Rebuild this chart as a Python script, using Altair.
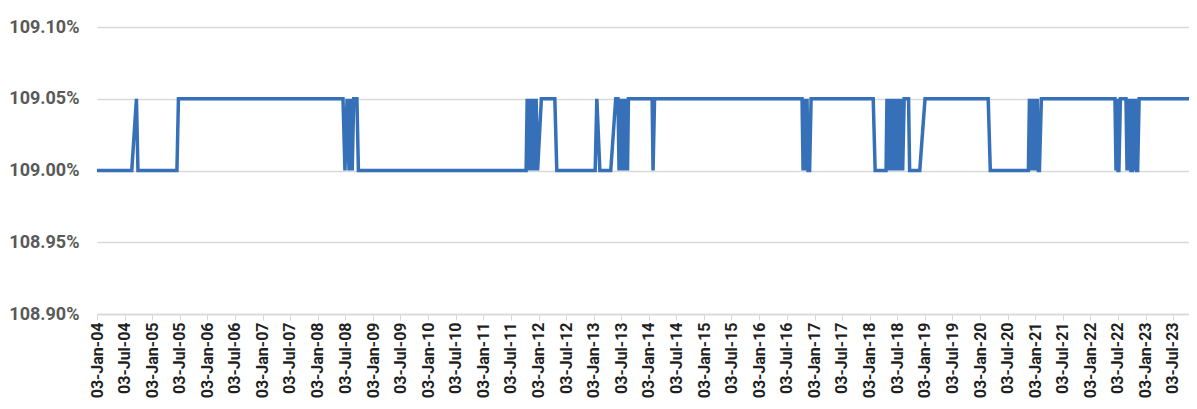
import altair as alt
import pandas as pd

dates = [
    "2004-01-03", "2004-08-20", "2004-09-20", "2004-09-30", "2005-06-15", "2005-06-25",
    "2008-06-18", "2008-07-01", "2008-07-15", "2008-07-28", "2008-08-08", "2008-08-18",
    "2008-08-28", "2008-09-18", "2008-09-28",
    "2011-10-13", "2011-10-20", "2011-10-30", "2011-11-10", "2011-11-17", "2011-11-27",
    "2011-12-08", "2011-12-18", "2011-12-28", "2012-01-22", "2012-04-20", "2012-05-03",
    "2013-01-12", "2013-01-23", "2013-02-12", "2013-04-25", "2013-05-28", "2013-06-12",
    "2013-06-19", "2013-06-25", "2013-07-02", "2013-07-09", "2013-07-15", "2013-07-22",
    "2013-07-28", "2013-08-07", "2013-08-14", "2013-08-20",
    "2014-01-24", "2014-01-30", "2014-02-09",
    "2016-10-12", "2016-10-19", "2016-10-29", "2016-11-05", "2016-11-14", "2016-11-21",
    "2016-12-01", "2016-12-11",
    "2018-01-26", "2018-02-08", "2018-04-21", "2018-04-27", "2018-05-07", "2018-05-17",
    "2018-05-27", "2018-06-07", "2018-06-17", "2018-06-27", "2018-07-06", "2018-07-16",
    "2018-07-27", "2018-08-06", "2018-08-09", "2018-08-19", "2018-09-17", "2018-09-24",
    "2018-11-30", "2019-01-04",
    "2020-02-26", "2020-03-11", "2020-11-18", "2020-11-25", "2020-12-02", "2020-12-08",
    "2020-12-15", "2020-12-21", "2020-12-28", "2021-01-03", "2021-01-10", "2021-01-16",
    "2021-01-23", "2021-01-30", "2021-02-12",
    "2022-06-14", "2022-06-21", "2022-06-27", "2022-07-04", "2022-07-10", "2022-07-20",
    "2022-08-26", "2022-09-02", "2022-09-09", "2022-09-15", "2022-09-22", "2022-09-28",
    "2022-10-08", "2022-10-15", "2022-10-22", "2022-10-28", "2022-11-04", "2022-11-11",
    "2022-11-21", "2023-12-10",
]

values = [
    109.00, 109.00, 109.05, 109.00, 109.00, 109.05,
    109.05, 109.00, 109.05, 109.00, 109.05, 109.00,
    109.05, 109.05, 109.00,
    109.00, 109.05, 109.00, 109.05, 109.00, 109.05,
    109.00, 109.05, 109.00, 109.05, 109.05, 109.00,
    109.00, 109.05, 109.00, 109.00, 109.05, 109.05,
    109.00, 109.05, 109.00, 109.05, 109.00, 109.05,
    109.00, 109.05, 109.00, 109.05,
    109.05, 109.00, 109.05,
    109.05, 109.00, 109.05, 109.00, 109.05, 109.00,
    109.00, 109.05,
    109.05, 109.00, 109.00, 109.05, 109.00, 109.05,
    109.00, 109.05, 109.00, 109.05, 109.00, 109.05,
    109.00, 109.05, 109.00, 109.05, 109.05, 109.00,
    109.00, 109.05,
    109.05, 109.00, 109.00, 109.05, 109.00, 109.05,
    109.00, 109.05, 109.00, 109.05, 109.00, 109.05,
    109.00, 109.00, 109.05,
    109.05, 109.00, 109.05, 109.00, 109.00, 109.05,
    109.05, 109.00, 109.05, 109.00, 109.05, 109.00,
    109.00, 109.05, 109.00, 109.05, 109.00, 109.00,
    109.05, 109.05,
]

tick_years = list(range(2004, 2024))
tick_months = [1, 7]
y_ticks = [108.90, 108.95, 109.00, 109.05, 109.10]

df = pd.DataFrame({"date": dates, "rate": values})

FONT = "Roboto"

x_ticks = [alt.DateTime(year=y, month=m, date=3, utc=True) for y in tick_years for m in tick_months]

chart = alt.Chart(df).mark_line(color="#3670B8", strokeWidth=3.5, clip=True).encode(
    x=alt.X(
        "date:T",
        scale=alt.Scale(
            type="utc",
            nice=False,
            domain=[alt.DateTime(year=2004, month=1, date=3, utc=True),
                    alt.DateTime(year=2023, month=10, date=17, utc=True)],
        ),
        axis=alt.Axis(
            values=x_ticks,
            labelExpr="utcFormat(datum.value, '%d-%b-%y')",
            labelAngle=270,
            labelFont=FONT,
            labelFontSize=16,
            labelFontWeight="bold",
            labelColor="#1F1F1F",
            labelPadding=2,
            labelOverlap=False,
            labelFlush=False,
            labelBound=False,
            domainColor="#D9D9D9",
            domainWidth=1.5,
            tickColor="#D9D9D9",
            tickSize=6,
            grid=False,
            title=None,
        ),
    ),
    y=alt.Y(
        "rate:Q",
        scale=alt.Scale(domain=[108.90, 109.10], nice=False, zero=False),
        axis=alt.Axis(
            values=y_ticks,
            labelExpr="format(datum.value, '.2f') + '%'",
            domain=False,
            ticks=False,
            grid=True,
            gridColor="#D9D9D9",
            gridWidth=1.5,
            labelFont=FONT,
            labelFontSize=18,
            labelFontWeight="bold",
            labelColor="#595959",
            labelPadding=18,
            title=None,
        ),
    ),
).properties(
    width=1092,
    height=287,
    autosize=alt.AutoSizeParams(type="none"),
    padding={"left": 89, "top": 19, "right": 0, "bottom": 86},
).configure_view(stroke=None)

chart.save("out.html", embed_options={"renderer": "svg", "actions": False})
